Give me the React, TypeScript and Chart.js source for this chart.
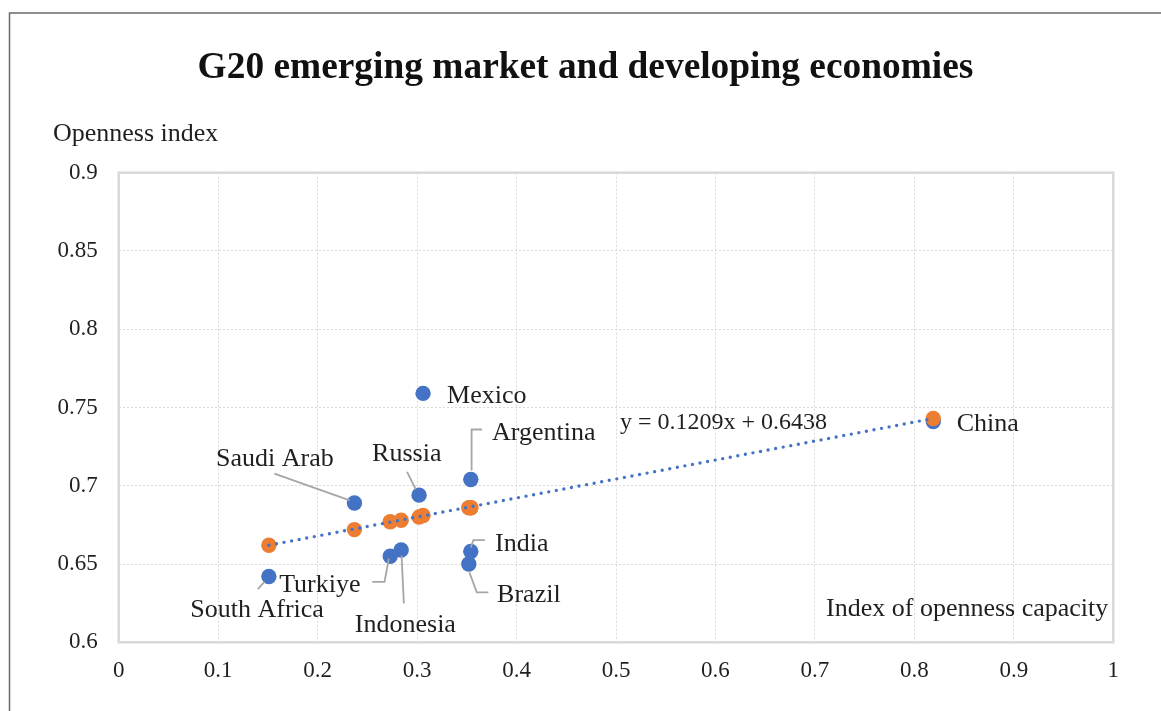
import React, { useEffect, useRef } from "react";
import { Chart, registerables } from "chart.js";

Chart.register(...registerables);

// ---------------- data ----------------
const countries = ["Mexico", "Argentina", "Russia", "Saudi Arab", "India", "Brazil", "Indonesia", "Turkiye", "South Africa", "China"];
const capacity = [0.306, 0.354, 0.302, 0.237, 0.354, 0.352, 0.284, 0.273, 0.151, 0.819];
const openness = [0.759, 0.704, 0.694, 0.689, 0.658, 0.650, 0.659, 0.655, 0.642, 0.741];
const fitted = [0.681, 0.686, 0.680, 0.672, 0.686, 0.686, 0.678, 0.677, 0.662, 0.743];
const trendX = [0.151, 0.819];
const trendY = [0.662, 0.743];
const xTicks = [0, 0.1, 0.2, 0.3, 0.4, 0.5, 0.6, 0.7, 0.8, 0.9, 1];
const yTicks = [0.6, 0.65, 0.7, 0.75, 0.8, 0.85, 0.9];
const titleText = "G20 emerging market and developing economies";
const yTitle = "Openness index";
const xTitle = "Index of openness capacity";
const trendLabel = "y = 0.1209x + 0.6438";
const trendLabelAt = [0.504, 0.7413];

// ---------------- label layout (pixel offsets from the blue point) ----------------
type Lay = { dx: number; dy: number; align: CanvasTextAlign; leader?: number[][] };
const labelLayout: Record<string, Lay> = {
  "Mexico": { dx: 24, dy: 1, align: "left" },
  "Argentina": { dx: 21.3, dy: -48, align: "left", leader: [[11.3, -50], [0.8, -50], [0.8, -9]] },
  "Russia": { dx: -12.3, dy: -43, align: "center", leader: [[-12, -23.3], [-3.3, -5.7]] },
  "Saudi Arab": { dx: -79.5, dy: -45.7, align: "center", leader: [[-80, -29.4], [-4.7, -2.7]] },
  "India": { dx: 24.3, dy: -9.3, align: "left", leader: [[14.3, -11.3], [2.6, -11.3], [0, -4]] },
  "Brazil": { dx: 28.3, dy: 29.7, align: "left", leader: [[0.6, 8.4], [8, 28.4], [19.6, 28.4]] },
  "Indonesia": { dx: 4.2, dy: 73.7, align: "center", leader: [[0.4, 5.7], [2.7, 53.4]] },
  "Turkiye": { dx: -29.7, dy: 27, align: "right", leader: [[-18, 25.7], [-5.7, 25.7], [-1.4, 2.3]] },
  "South Africa": { dx: -11.8, dy: 32.3, align: "center", leader: [[-11, 12.6], [-4.3, 5]] },
  "China": { dx: 23.5, dy: 1, align: "left" },
};

const FONT = '"Liberation Serif", "Times New Roman", serif';
const BLUE = "#4472C4";
const ORANGE = "#ED7D31";
const TEXT = "#1f1f1f";

const decorPlugin = {
  id: "decor",
  beforeDraw(chart: any) {
    const ctx = chart.ctx;
    ctx.save();
    ctx.fillStyle = "#ffffff";
    ctx.fillRect(0, 0, chart.width, chart.height);
    // outer frame
    ctx.strokeStyle = "#6a6a6a";
    ctx.lineWidth = 1.5;
    ctx.beginPath();
    ctx.moveTo(9.5, chart.height + 2);
    ctx.lineTo(9.5, 13);
    ctx.lineTo(chart.width + 2, 13);
    ctx.stroke();
    ctx.restore();
  },
  beforeDatasetsDraw(chart: any) {
    const ctx = chart.ctx;
    const a = chart.chartArea;
    ctx.save();
    ctx.strokeStyle = "#d9d9d9";
    ctx.lineWidth = 2.5;
    ctx.strokeRect(a.left, a.top, a.right - a.left, a.bottom - a.top);
    ctx.restore();
  },
  afterDraw(chart: any) {
    const ctx = chart.ctx;
    const a = chart.chartArea;
    const xs = chart.scales.x;
    const ys = chart.scales.y;
    ctx.save();
    // title
    ctx.fillStyle = "#111111";
    ctx.font = `bold 37.4px ${FONT}`;
    ctx.textAlign = "center";
    ctx.textBaseline = "alphabetic";
    ctx.fillText(titleText, 585.5, 78);
    // axis titles
    ctx.fillStyle = TEXT;
    ctx.font = `26px ${FONT}`;
    ctx.textAlign = "left";
    ctx.fillText(yTitle, 53, a.top - 32);
    ctx.textAlign = "right";
    ctx.fillText(xTitle, a.right - 5, a.bottom - 26);
    // trend equation
    ctx.font = `24px ${FONT}`;
    ctx.textAlign = "left";
    ctx.fillText(trendLabel, xs.getPixelForValue(trendLabelAt[0]), ys.getPixelForValue(trendLabelAt[1]) + 8);
    // leader lines and labels
    ctx.strokeStyle = "#a6a6a6";
    ctx.lineWidth = 1.8;
    ctx.font = `26px ${FONT}`;
    countries.forEach((name, i) => {
      const lay = labelLayout[name];
      if (!lay) return;
      const px = xs.getPixelForValue(capacity[i]);
      const py = ys.getPixelForValue(openness[i]);
      if (lay.leader) {
        ctx.beginPath();
        lay.leader.forEach((p, k) => {
          if (k === 0) ctx.moveTo(px + p[0], py + p[1]);
          else ctx.lineTo(px + p[0], py + p[1]);
        });
        ctx.stroke();
      }
      ctx.fillStyle = TEXT;
      ctx.textAlign = lay.align;
      ctx.fillText(name, px + lay.dx, py + lay.dy + 8.6);
    });
    ctx.restore();
  },
};

export default function App() {
  const ref = useRef<HTMLCanvasElement | null>(null);
  useEffect(() => {
    if (!ref.current) return;
    const chart = new Chart(ref.current, {
      type: "scatter",
      data: {
        datasets: [
          {
            label: "Linear trend",
            data: trendX.map((x, i) => ({ x, y: trendY[i] })),
            showLine: true,
            borderColor: BLUE,
            borderWidth: 3.4,
            borderDash: [0, 7.7],
            borderCapStyle: "round",
            pointRadius: 0,
            fill: false,
          } as any,
          {
            label: "Fitted",
            data: capacity.map((x, i) => ({ x, y: fitted[i] })),
            backgroundColor: ORANGE,
            borderWidth: 0,
            pointRadius: 7.7,
          },
          {
            label: "Openness index",
            data: capacity.map((x, i) => ({ x, y: openness[i] })),
            backgroundColor: BLUE,
            borderWidth: 0,
            pointRadius: 7.7,
          },
        ],
      },
      options: {
        animation: false,
        responsive: false,
        events: [],
        layout: { padding: { top: 172.7, left: 0, right: 47.7, bottom: 18.7 } },
        plugins: { legend: { display: false }, tooltip: { enabled: false }, title: { display: false } },
        scales: {
          x: {
            type: "linear",
            min: 0,
            max: 1,
            afterBuildTicks: (s: any) => { s.ticks = xTicks.map((v) => ({ value: v })); },
            afterFit: (s: any) => { s.height = 50; s.paddingLeft = 0; s.paddingRight = 0; },
            ticks: {
              callback: (v: any) => String(v),
              color: TEXT,
              font: { family: FONT, size: 23 },
              padding: 15,
              maxRotation: 0,
              autoSkip: false,
            },
            grid: { color: "#d9d9d9", lineWidth: 1, drawTicks: false },
            border: { display: false, dash: [2, 2] },
          },
          y: {
            type: "linear",
            min: 0.6,
            max: 0.9,
            afterBuildTicks: (s: any) => { s.ticks = yTicks.map((v) => ({ value: v })); },
            afterFit: (s: any) => { s.width = 118.7; s.paddingTop = 0; s.paddingBottom = 0; },
            ticks: {
              callback: (v: any) => String(v),
              color: TEXT,
              font: { family: FONT, size: 23 },
              padding: 21,
              autoSkip: false,
            },
            grid: { color: "#d9d9d9", lineWidth: 1, drawTicks: false },
            border: { display: false, dash: [2, 2] },
          },
        },
      },
      plugins: [decorPlugin],
    });
    return () => chart.destroy();
  }, []);
  return (
    <div style={{ position: "fixed", left: 0, top: 0, width: 1161, height: 711 }}>
      <canvas ref={ref} width={1161} height={711} style={{ display: "block" }} />
    </div>
  );
}
